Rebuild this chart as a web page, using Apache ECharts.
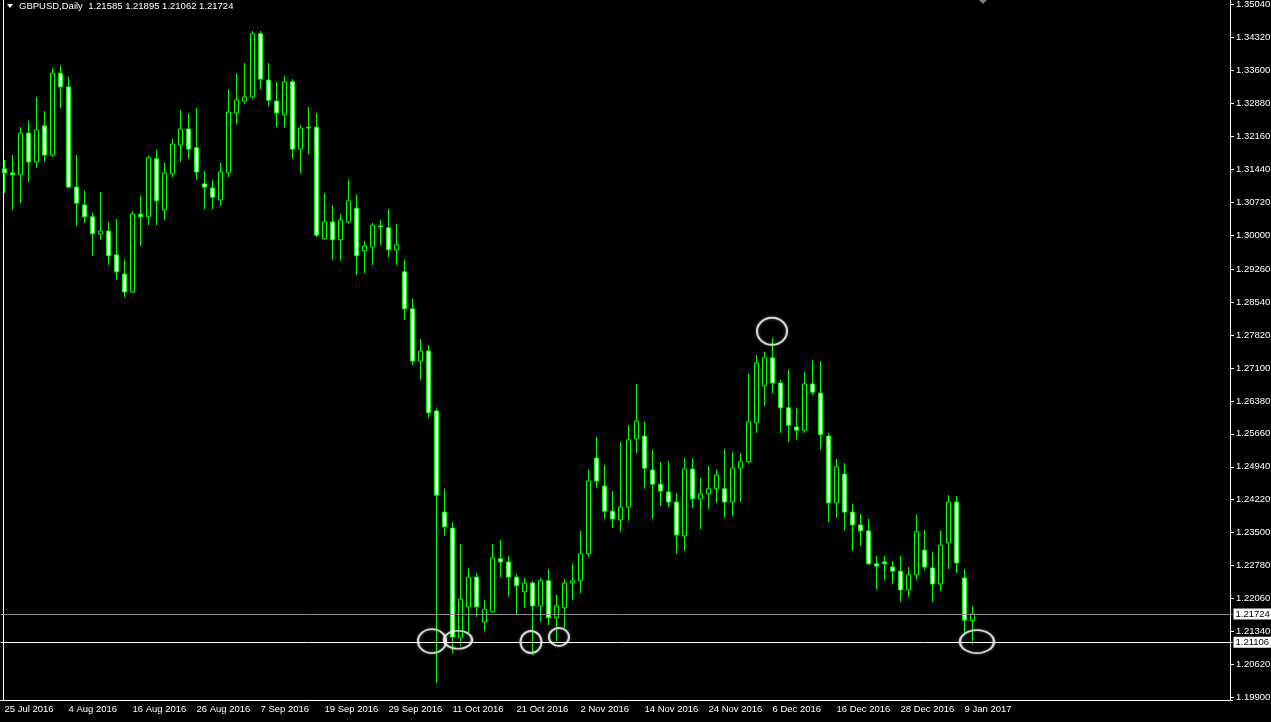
<!DOCTYPE html>
<html><head><meta charset="utf-8">
<script src="https://cdn.jsdelivr.net/npm/echarts@6/dist/echarts.min.js"></script>
<style>html,body{margin:0;padding:0;background:#000;}#c{width:1271px;height:722px;}</style>
</head><body><div id="c"></div>
<script>
const symbolName = 'GBPUSD,Daily';
const dates = [
 '25 Jul 2016','26 Jul 2016','27 Jul 2016','28 Jul 2016','29 Jul 2016',
 '1 Aug 2016','2 Aug 2016','3 Aug 2016','4 Aug 2016','5 Aug 2016',
 '8 Aug 2016','9 Aug 2016','10 Aug 2016','11 Aug 2016','12 Aug 2016',
 '15 Aug 2016','16 Aug 2016','17 Aug 2016','18 Aug 2016','19 Aug 2016',
 '22 Aug 2016','23 Aug 2016','24 Aug 2016','25 Aug 2016','26 Aug 2016',
 '29 Aug 2016','30 Aug 2016','31 Aug 2016','1 Sep 2016','2 Sep 2016',
 '5 Sep 2016','6 Sep 2016','7 Sep 2016','8 Sep 2016','9 Sep 2016',
 '12 Sep 2016','13 Sep 2016','14 Sep 2016','15 Sep 2016','16 Sep 2016',
 '19 Sep 2016','20 Sep 2016','21 Sep 2016','22 Sep 2016','23 Sep 2016',
 '26 Sep 2016','27 Sep 2016','28 Sep 2016','29 Sep 2016','30 Sep 2016',
 '3 Oct 2016','4 Oct 2016','5 Oct 2016','6 Oct 2016','7 Oct 2016',
 '10 Oct 2016','11 Oct 2016','12 Oct 2016','13 Oct 2016','14 Oct 2016',
 '17 Oct 2016','18 Oct 2016','19 Oct 2016','20 Oct 2016','21 Oct 2016',
 '24 Oct 2016','25 Oct 2016','26 Oct 2016','27 Oct 2016','28 Oct 2016',
 '31 Oct 2016','1 Nov 2016','2 Nov 2016','3 Nov 2016','4 Nov 2016',
 '7 Nov 2016','8 Nov 2016','9 Nov 2016','10 Nov 2016','11 Nov 2016',
 '14 Nov 2016','15 Nov 2016','16 Nov 2016','17 Nov 2016','18 Nov 2016',
 '21 Nov 2016','22 Nov 2016','23 Nov 2016','24 Nov 2016','25 Nov 2016',
 '28 Nov 2016','29 Nov 2016','30 Nov 2016','1 Dec 2016','2 Dec 2016',
 '5 Dec 2016','6 Dec 2016','7 Dec 2016','8 Dec 2016','9 Dec 2016',
 '12 Dec 2016','13 Dec 2016','14 Dec 2016','15 Dec 2016','16 Dec 2016',
 '19 Dec 2016','20 Dec 2016','21 Dec 2016','22 Dec 2016','23 Dec 2016',
 '26 Dec 2016','27 Dec 2016','28 Dec 2016','29 Dec 2016','30 Dec 2016',
 '2 Jan 2017','3 Jan 2017','4 Jan 2017','5 Jan 2017','6 Jan 2017',
 '9 Jan 2017','10 Jan 2017'
];
// [open, close, low, high]
const candles = [
 [1.3145,1.3136,1.3092,1.3164],[1.3136,1.3132,1.3055,1.3175],[1.3132,1.3223,1.3070,1.3236],[1.3223,1.3160,1.3116,1.3250],[1.3160,1.3230,1.3147,1.3302],
 [1.3239,1.3175,1.3160,1.3271],[1.3175,1.3354,1.3171,1.3365],[1.3354,1.3324,1.3278,1.3372],[1.3324,1.3105,1.3103,1.3346],[1.3105,1.3070,1.3020,1.3175],
 [1.3066,1.3040,1.3027,1.3097],[1.3040,1.3003,1.2955,1.3049],[1.3003,1.3009,1.2990,1.3094],[1.3009,1.2955,1.2935,1.3029],[1.2957,1.2920,1.2902,1.3035],
 [1.2915,1.2876,1.2865,1.2946],[1.2876,1.3046,1.2874,1.3053],[1.3046,1.3040,1.2976,1.3086],[1.3040,1.3169,1.3022,1.3173],[1.3167,1.3075,1.3022,1.3186],
 [1.3055,1.3136,1.3033,1.3158],[1.3134,1.3199,1.3127,1.3210],[1.3197,1.3232,1.3160,1.3274],[1.3232,1.3188,1.3167,1.3265],[1.3191,1.3138,1.3121,1.3278],
 [1.3112,1.3105,1.3057,1.3140],[1.3103,1.3083,1.3057,1.3121],[1.3077,1.3138,1.3064,1.3158],[1.3136,1.3269,1.3127,1.3319],[1.3267,1.3295,1.3243,1.3354],
 [1.3293,1.3302,1.3287,1.3376],[1.3302,1.3440,1.3298,1.3446],[1.3440,1.3341,1.3319,1.3446],[1.3339,1.3295,1.3282,1.3376],[1.3293,1.3267,1.3236,1.3335],
 [1.3263,1.3335,1.3234,1.3348],[1.3335,1.3188,1.3167,1.3341],[1.3188,1.3234,1.3136,1.3241],[1.3236,1.3234,1.3177,1.3280],[1.3236,1.3000,1.2996,1.3267],
 [1.2992,1.3029,1.2990,1.3092],[1.3029,1.2990,1.2946,1.3066],[1.2990,1.3033,1.2944,1.3046],[1.3029,1.3075,1.3025,1.3121],[1.3059,1.2955,1.2913,1.3088],
 [1.2966,1.2976,1.2917,1.2987],[1.2974,1.3022,1.2935,1.3027],[1.3020,1.3018,1.2979,1.3033],[1.3016,1.2968,1.2952,1.3057],[1.2968,1.2979,1.2935,1.3025],
 [1.2920,1.2839,1.2815,1.2946],[1.2839,1.2725,1.2716,1.2861],[1.2725,1.2747,1.2684,1.2773],[1.2747,1.2612,1.2601,1.2760],[1.2616,1.2432,1.2022,1.2622],
 [1.2395,1.2363,1.2343,1.2446],[1.2360,1.2122,1.2087,1.2373],[1.2120,1.2205,1.2103,1.2325],[1.2188,1.2253,1.2131,1.2273],[1.2253,1.2188,1.2166,1.2262],
 [1.2155,1.2183,1.2135,1.2203],[1.2177,1.2295,1.2175,1.2325],[1.2293,1.2286,1.2253,1.2334],[1.2286,1.2253,1.2210,1.2299],[1.2253,1.2234,1.2172,1.2260],
 [1.2221,1.2240,1.2186,1.2251],[1.2240,1.2190,1.2083,1.2245],[1.2190,1.2245,1.2155,1.2251],[1.2245,1.2164,1.2148,1.2271],[1.2164,1.2190,1.2113,1.2214],
 [1.2186,1.2240,1.2142,1.2249],[1.2240,1.2245,1.2203,1.2282],[1.2245,1.2304,1.2218,1.2354],[1.2304,1.2463,1.2297,1.2487],[1.2513,1.2463,1.2448,1.2559],
 [1.2452,1.2397,1.2380,1.2498],[1.2397,1.2380,1.2360,1.2441],[1.2378,1.2406,1.2352,1.2548],[1.2406,1.2553,1.2376,1.2585],[1.2555,1.2594,1.2524,1.2675],
 [1.2561,1.2491,1.2446,1.2592],[1.2487,1.2456,1.2380,1.2531],[1.2456,1.2441,1.2408,1.2505],[1.2439,1.2417,1.2406,1.2507],[1.2417,1.2345,1.2304,1.2437],
 [1.2343,1.2489,1.2310,1.2513],[1.2489,1.2424,1.2404,1.2513],[1.2424,1.2435,1.2358,1.2470],[1.2435,1.2446,1.2402,1.2496],[1.2446,1.2476,1.2415,1.2487],
 [1.2446,1.2417,1.2384,1.2533],[1.2417,1.2491,1.2387,1.2526],[1.2491,1.2505,1.2417,1.2524],[1.2505,1.2592,1.2502,1.2697],[1.2590,1.2721,1.2568,1.2738],
 [1.2671,1.2732,1.2627,1.2745],[1.2732,1.2677,1.2655,1.2775],[1.2677,1.2623,1.2568,1.2684],[1.2623,1.2585,1.2548,1.2706],[1.2581,1.2574,1.2553,1.2623],
 [1.2574,1.2675,1.2568,1.2701],[1.2675,1.2657,1.2651,1.2727],[1.2655,1.2564,1.2531,1.2725],[1.2561,1.2415,1.2373,1.2568],[1.2415,1.2494,1.2382,1.2511],
 [1.2478,1.2395,1.2354,1.2502],[1.2395,1.2367,1.2310,1.2413],[1.2367,1.2354,1.2321,1.2391],[1.2354,1.2282,1.2280,1.2380],[1.2282,1.2277,1.2227,1.2299],
 [1.2286,1.2282,1.2247,1.2299],[1.2275,1.2266,1.2238,1.2288],[1.2266,1.2225,1.2199,1.2299],[1.2225,1.2258,1.2210,1.2275],[1.2258,1.2352,1.2247,1.2389],
 [1.2312,1.2275,1.2269,1.2356],[1.2273,1.2238,1.2199,1.2308],[1.2238,1.2323,1.2223,1.2354],[1.2328,1.2417,1.2271,1.2432],[1.2417,1.2284,1.2262,1.2430],
 [1.2251,1.2159,1.2131,1.2271],[1.21585,1.21724,1.21062,1.21895]
];
const priceTicks = [1.19900,1.20620,1.21340,1.22060,1.22780,1.23500,1.24220,1.24940,1.25660,1.26380,1.27100,
  1.27820,1.28540,1.29260,1.30000,1.30720,1.31440,1.32160,1.32880,1.33600,1.34320,1.35040];
const bidLevel = 1.21724;
const supportLevel = 1.21106;
// circled points: [bar index, price]
const circledPoints = [[53.44,1.2113],[56.69,1.2116],[65.81,1.2111],[69.31,1.2122],[95.94,1.2790],[121.56,1.2112]];

const circleSizes = [[28,24],[28,18],[21,22],[20,18],[30,27],[34,23]];
const SLOTS = 154;
const FONT = '"Liberation Sans",Arial,sans-serif';
const FS = 9.5;
const categories = dates.concat(new Array(SLOTS - dates.length).fill(''));
const showTick = (i) => i % 8 === 0 && i < dates.length;
const last = candles[candles.length - 1];
const header = symbolName + '  ' + [last[0], last[3], last[2], last[1]].map(v => v.toFixed(5)).join(' ');
const yMin = 1.19845, yMax = 1.35138;

const chart = echarts.init(document.getElementById('c'), null, {renderer: 'canvas'});
chart.setOption({
  backgroundColor: '#000000',
  animation: false,
  title: {text: header, left: 19, top: 1, padding: 0,
    textStyle: {color: '#ffffff', fontSize: FS, fontWeight: 'normal', fontFamily: FONT, lineHeight: 11}},
  graphic: [
    {type: 'polygon', shape: {points: [[7,4],[13,4],[10,8]]}, style: {fill: '#ffffff'}},
    {type: 'polygon', shape: {points: [[979,0],[987,0],[983,4]]}, style: {fill: '#808080'}}
  ],
  grid: {left: 0.5, top: 0, width: 1232, height: 700, containLabel: false, outerBoundsMode: 'none'},
  xAxis: [{
    type: 'category', data: categories, boundaryGap: true,
    axisLine: {onZero: false, lineStyle: {color: '#ffffff', width: 1}},
    axisTick: {alignWithLabel: true, interval: showTick, length: 4, lineStyle: {color: '#ffffff'}},
    axisLabel: {interval: showTick, color: '#ffffff', fontSize: FS, fontFamily: FONT, align: 'left', margin: 4},
    splitLine: {show: false}
  }, {
    type: 'value', min: -0.5, max: SLOTS - 0.5, show: false
  }],
  yAxis: [{
    type: 'value', position: 'right', offset: -2.5, min: yMin, max: yMax, scale: true,
    axisLine: {show: true, onZero: false, lineStyle: {color: '#ffffff', width: 1}},
    axisTick: {show: true, length: 4, customValues: priceTicks, lineStyle: {color: '#ffffff'}},
    axisLabel: {color: '#ffffff', fontSize: FS, fontFamily: FONT, margin: 6, customValues: priceTicks,
      formatter: v => v.toFixed(5)},
    splitLine: {show: false}
  }, {
    type: 'value', position: 'left', offset: -2.5, min: yMin, max: yMax,
    axisLine: {show: true, onZero: false, lineStyle: {color: '#ffffff', width: 1}},
    axisTick: {show: false}, axisLabel: {show: false}, splitLine: {show: false}
  }],
  series: [{
    type: 'candlestick', xAxisIndex: 0, yAxisIndex: 0, data: candles, barWidth: 4,
    itemStyle: {color: '#000000', color0: '#ffffff', borderColor: '#00ff00', borderColor0: '#00ff00',
      borderColorDoji: '#00ff00', borderWidth: 1},
    markLine: {
      silent: true, symbol: 'none', animation: false, precision: 5,
      label: {position: 'end', distance: 1, color: '#000000', backgroundColor: '#ffffff', fontSize: FS,
        fontFamily: FONT, padding: [1, 2, 0, 2], formatter: p => Number(p.value).toFixed(5)},
      data: [
        {yAxis: bidLevel, lineStyle: {color: '#8c8c8c', width: 1, type: 'solid'}},
        {yAxis: supportLevel, lineStyle: {color: '#ffffff', width: 1, type: 'solid'}}
      ]
    }
  }, {
    type: 'scatter', xAxisIndex: 1, yAxisIndex: 0, silent: true, z: 5,
    data: circledPoints.map((p, i) => ({value: p, symbolSize: circleSizes[i]})),
    symbol: 'circle',
    itemStyle: {color: 'rgba(0,0,0,0)', borderColor: '#ffffff', borderWidth: 2,
      shadowColor: 'rgba(255,255,255,0.5)', shadowBlur: 3}
  }]
});
</script></body></html>
